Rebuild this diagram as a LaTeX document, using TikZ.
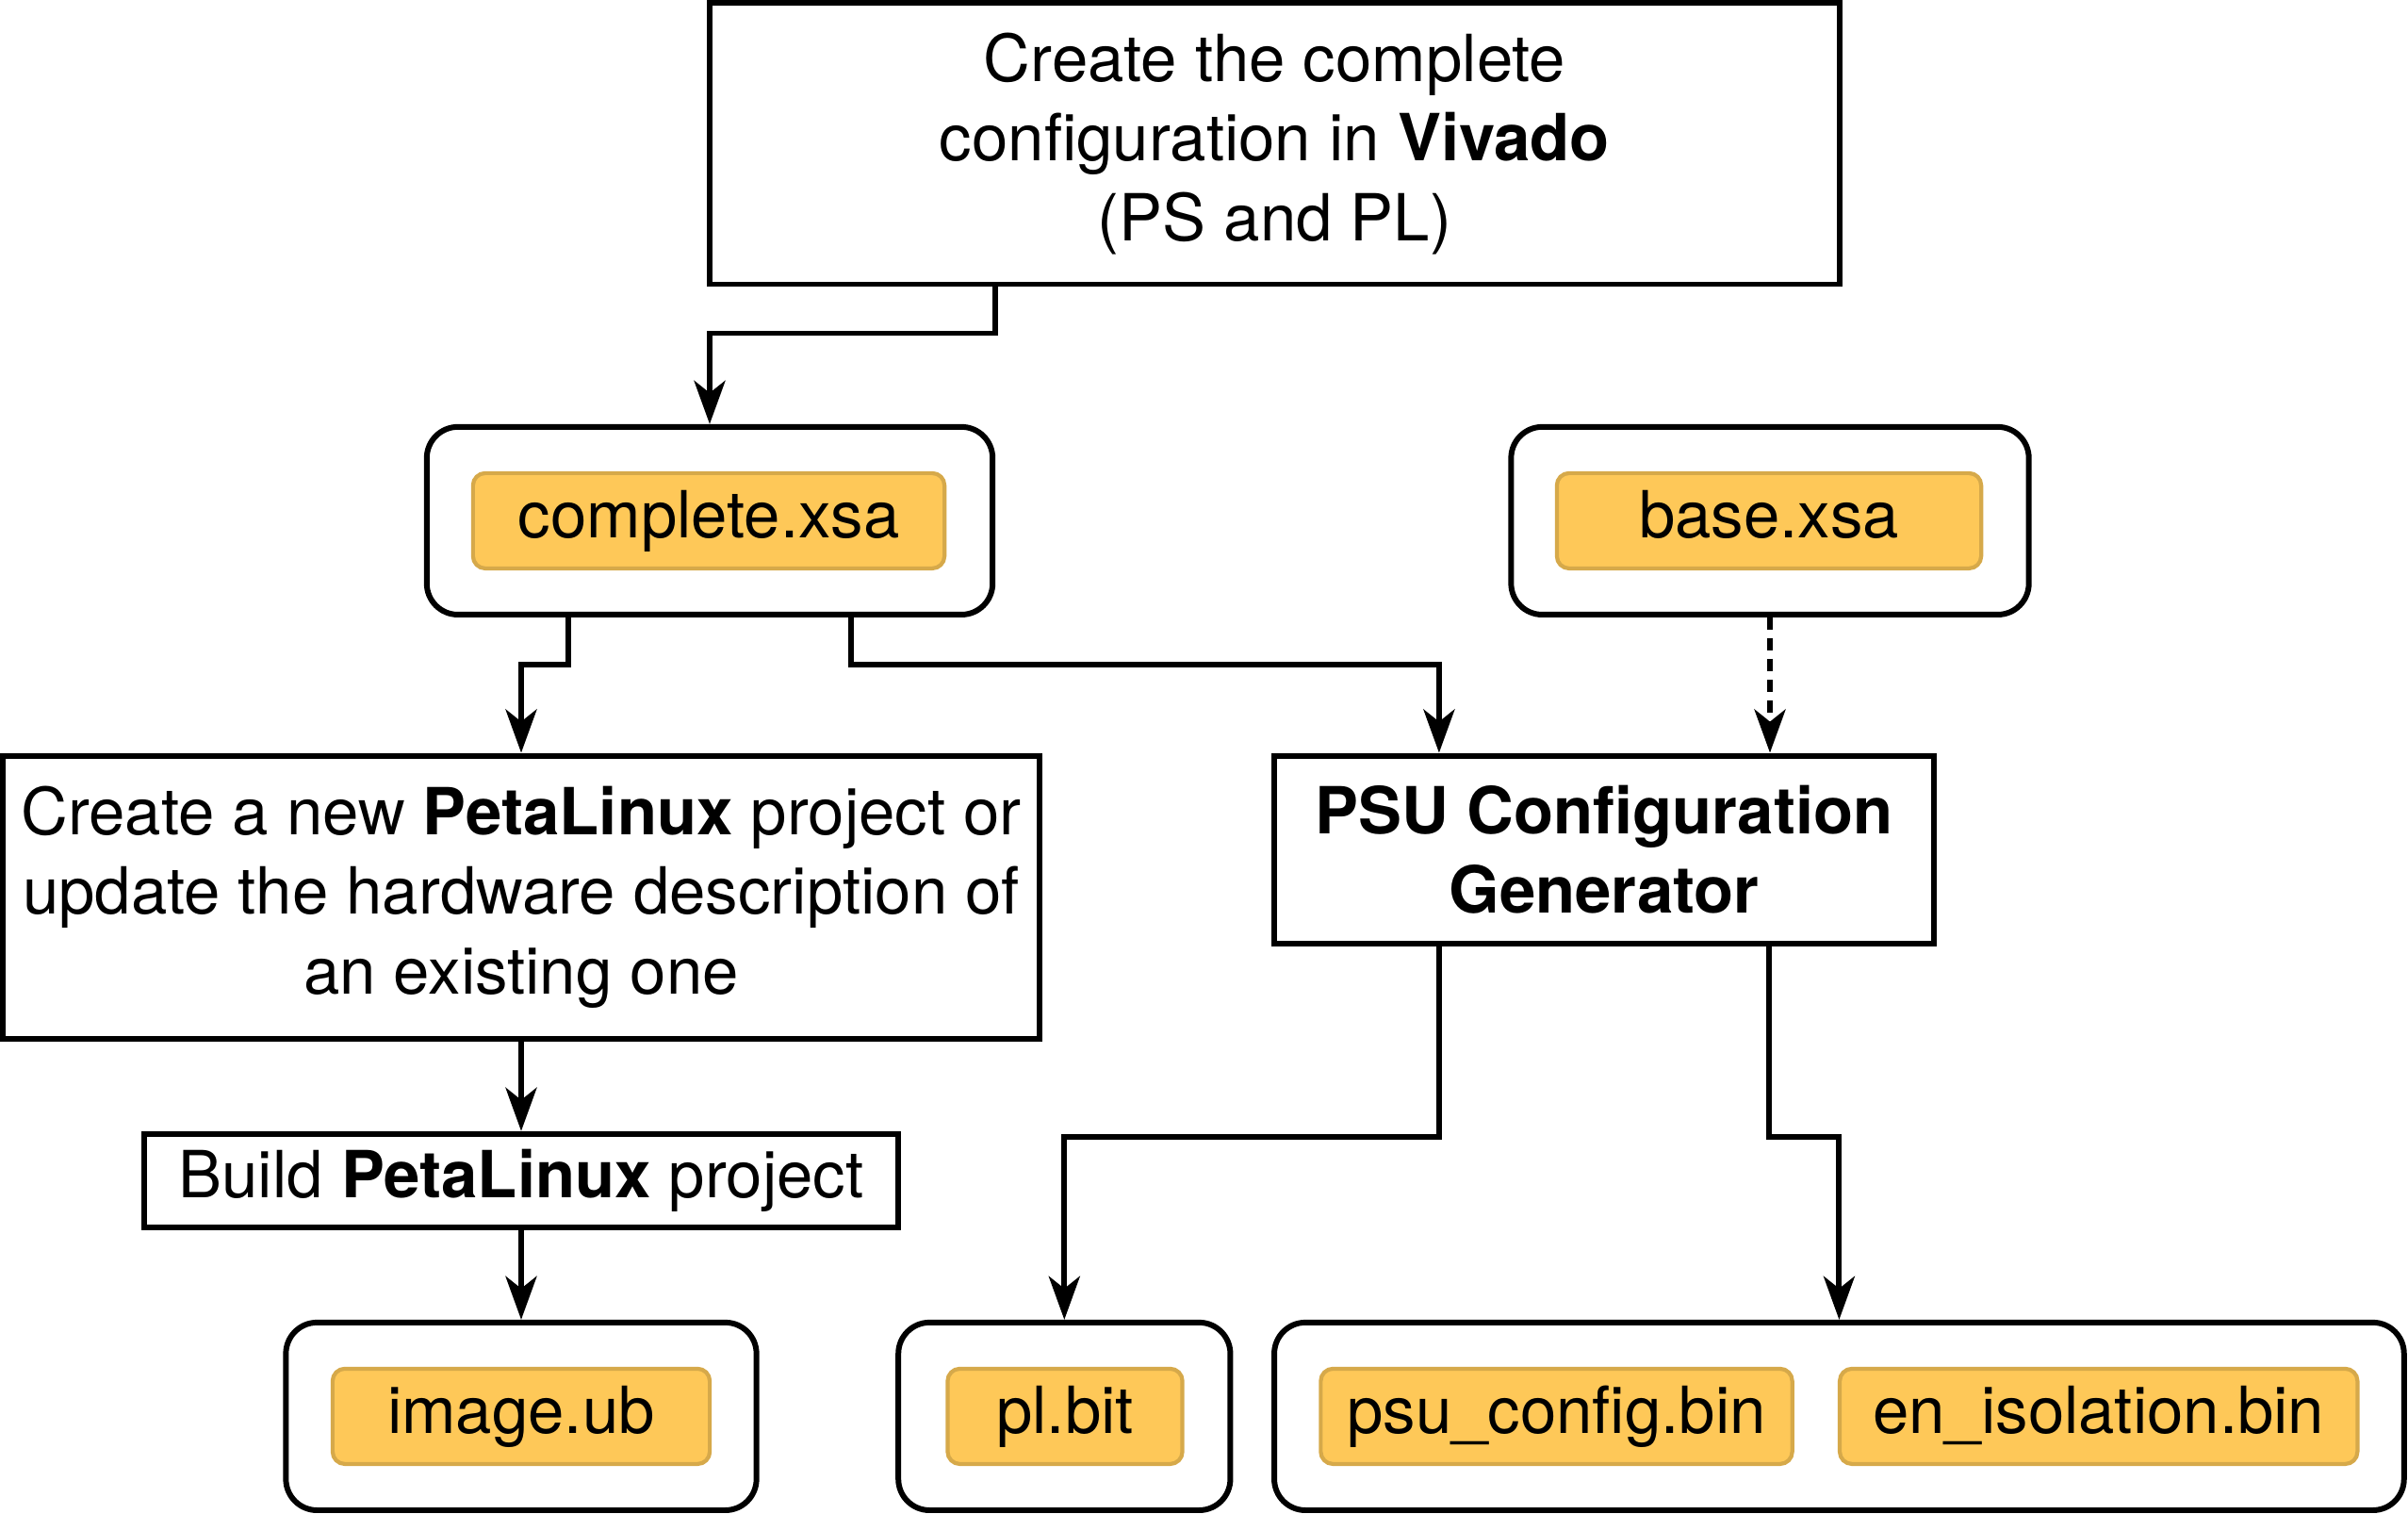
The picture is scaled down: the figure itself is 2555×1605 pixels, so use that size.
\documentclass[tikz,border=0pt]{standalone}
\usepackage{fontspec}
\setmainfont{TeX Gyre Heros}
\usetikzlibrary{arrows.meta}
\definecolor{filefill}{RGB}{254,200,88}
\definecolor{fileline}{RGB}{214,169,74}

\begin{document}
\begin{tikzpicture}[x=0.01cm, y=-0.01cm, >={Stealth[length=0.46cm,width=0.33cm,inset=0.13cm]},
    every node/.style={font=\fontsize{19.6}{24.1}\selectfont, inner sep=0pt},
    stepbox/.style={draw, line width=1.7pt, align=center},
    filebox/.style={draw, line width=1.7pt, rounded corners=0.33cm, minimum height=1.99cm},
    tag/.style={draw=fileline, fill=filefill, line width=1.2pt, rounded corners=0.13cm,
                minimum height=1.01cm, text height=14.3pt, text depth=4.3pt}]
  \useasboundingbox (0,0) rectangle (2555,1605);

  \node[stepbox, minimum width=11.99cm, minimum height=2.98cm] (vivado) at (1352.5,152.4)
        {Create the complete\\configuration in \textbf{Vivado}\\(PS and PL)};

  \node[filebox, minimum width=6cm] (complete) at (753,552.4) {};
  \node[tag, minimum width=5cm] (completetag) at (752,552.4) {complete.xsa};
  \node[filebox, minimum width=5.49cm] (base) at (1878,552.4) {};
  \node[tag, minimum width=4.5cm] (basetag) at (1877,552.4) {base.xsa};

  \node[stepbox, minimum width=11cm, minimum height=3cm] (petanew) at (553,951.6)
        {Create a new \textbf{PetaLinux} project or\\update the hardware description of\\an existing one};
  \node[stepbox, minimum width=6.99cm, minimum height=1.99cm] (psugen) at (1702,901.1)
        {\textbf{PSU Configuration}\\\textbf{Generator}};
  \node[stepbox, minimum width=8cm, minimum height=0.99cm] (build) at (553,1252.3)
        {Build \textbf{PetaLinux} project};

  \node[filebox, minimum width=4.99cm] (imageub) at (553,1502.4) {};
  \node[tag, minimum width=4cm] (imagetag) at (553,1502.4) {image.ub};
  \node[filebox, minimum width=3.52cm] (plbit) at (1129.3,1502.4) {};
  \node[tag, minimum width=2.49cm] (pltag) at (1130,1502.4) {pl.bit};
  \node[filebox, minimum width=11.98cm] (binfiles) at (1951.4,1502.4) {};
  \node[tag, minimum width=5cm] (psutag) at (1651.5,1502.4) {psu\_config.bin};
  \node[tag, minimum width=5.49cm] (isotag) at (2226.7,1502.4) {en\_isolation.bin};

  \draw[->, line width=1.7pt] (vivado.south -| complete.east) -- ++(0,49) -| (complete.north);
  \draw[->, line width=1.7pt] ([xshift=-1.5cm]complete.south) -- ++(0,50.5) -| (petanew.north);
  \draw[->, line width=1.7pt] ([xshift=1.5cm]complete.south) -- ++(0,50.5) -| ([xshift=-1.75cm]psugen.north);
  \draw[->, line width=1.7pt, dash pattern=on 0.13cm off 0.09cm] (base.south) -- (base.south |- psugen.north);
  \draw[->, line width=1.7pt] (petanew.south) -- (build.north);
  \draw[->, line width=1.7pt] (build.south) -- (imageub.north);
  \draw[->, line width=1.7pt] ([xshift=-1.75cm]psugen.south) -- ++(0,202) -| (plbit.north);
  \draw[->, line width=1.7pt] ([xshift=1.75cm]psugen.south) -- ++(0,202) -| (binfiles.north);
\end{tikzpicture}
\end{document}
